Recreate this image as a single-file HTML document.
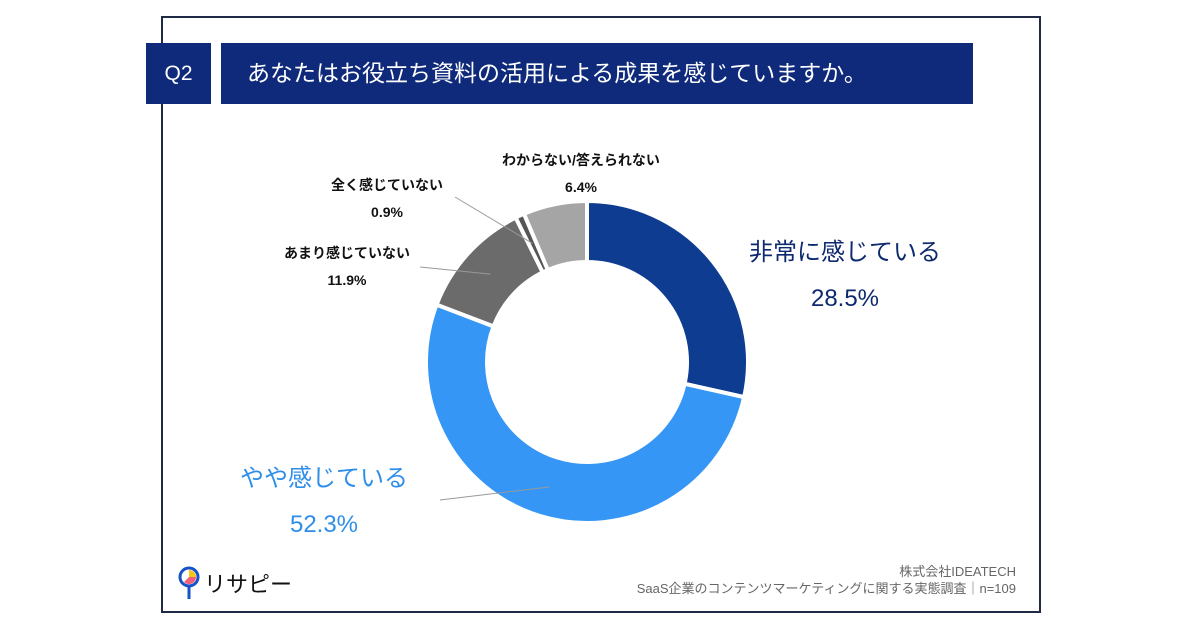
<!DOCTYPE html>
<html><head><meta charset="utf-8"><style>
body{margin:0;width:1200px;height:630px;background:#fff;position:relative;overflow:hidden;font-family:"Liberation Sans","Noto Sans CJK JP",sans-serif}
.abs{position:absolute}
</style></head><body>
<div class="abs" style="left:161px;top:16px;width:880px;height:597px;border:2px solid #1f2a44;box-sizing:border-box"></div>
<div class="abs" style="left:146px;top:43px;width:65px;height:61px;background:#0f2a7a;color:#fff;font-size:21px;line-height:61px;text-align:center">Q2</div>
<div class="abs" style="left:221px;top:43px;width:752px;height:61px;background:#0f2a7a;color:#fff;font-size:23px;line-height:61px;padding-left:26px;box-sizing:border-box">あなたはお役立ち資料の活用による成果を感じていますか。</div>
<svg class="abs" style="left:0;top:0" width="1200" height="630" id="chart"></svg>
<div class="abs" style="left:178px;top:566px;font-size:22px;color:#111;display:flex;align-items:center">
<svg width="22" height="34"><circle cx="11" cy="11" r="9" fill="#fff" stroke="#1652c8" stroke-width="3"/><path d="M11 11 L11 4 A7 7 0 0 1 18 11Z" fill="#f5c518"/><path d="M11 11 L18 11 A7 7 0 0 1 6 16Z" fill="#f0607a"/><line x1="11" y1="20" x2="11" y2="33" stroke="#1652c8" stroke-width="3"/></svg>
<span style="margin-left:4px">リサピー</span></div>
<div class="abs" style="right:184px;top:563px;text-align:right;font-size:13px;color:#666;line-height:17px">株式会社IDEATECH<br>SaaS企業のコンテンツマーケティングに関する実態調査｜n=109</div>
<script>
const categories=["非常に感じている","やや感じている","あまり感じていない","全く感じていない","わからない/答えられない"];
const values=[28.5,52.3,11.9,0.9,6.4];
const colors=["#0e3c91","#3596f5","#6b6b6b","#555555","#a5a5a5"];
const svg=document.getElementById('chart');
const NS="http://www.w3.org/2000/svg";
const cx=587,cy=362,R=161,r=100;
const total=values.reduce((a,b)=>a+b,0);
function pt(a,rad){return [cx+rad*Math.sin(a),cy-rad*Math.cos(a)];}
let acc=0;const mids=[];
values.forEach((v,i)=>{
 const a0=acc/total*2*Math.PI;acc+=v;const a1=acc/total*2*Math.PI;
 mids.push((a0+a1)/2);
 const large=(a1-a0)>Math.PI?1:0;
 const p0=pt(a0,R),p1=pt(a1,R),q1=pt(a1,r),q0=pt(a0,r);
 const p=document.createElementNS(NS,'path');
 p.setAttribute('d',`M${p0} A${R} ${R} 0 ${large} 1 ${p1} L${q1} A${r} ${r} 0 ${large} 0 ${q0}Z`);
 p.setAttribute('fill',colors[i]);p.setAttribute('stroke','#fff');p.setAttribute('stroke-width','4');
 
 
 svg.appendChild(p);
});
const labels=[
 {x:845,y:260,size:24,col:"#0e2a6e",bold:false,gap:46,lx:null},
 {x:324,y:486,size:24,col:"#2f8ee8",bold:false,gap:46,lx:440,ly:500},
 {x:347,y:258,size:14,col:"#111",bold:true,gap:27,lx:420,ly:267},
 {x:387,y:190,size:14,col:"#111",bold:true,gap:27,lx:455,ly:197},
 {x:581,y:165,size:14,col:"#111",bold:true,gap:27,lx:null}
];
labels.forEach((L,i)=>{
 if(L.lx!==null){const m=pt(mids[i],(R+r)/2);const ln=document.createElementNS(NS,'line');
  ln.setAttribute('x1',L.lx);ln.setAttribute('y1',L.ly);ln.setAttribute('x2',m[0]);ln.setAttribute('y2',m[1]);
  ln.setAttribute('stroke','#999');ln.setAttribute('stroke-width','1');
  
  
  svg.appendChild(ln);}
 [categories[i],values[i].toFixed(1)+'%'].forEach((s,k)=>{
  const t=document.createElementNS(NS,'text');
  t.setAttribute('x',L.x);t.setAttribute('y',L.y+k*L.gap);t.setAttribute('text-anchor','middle');
  t.setAttribute('font-size',L.size);t.setAttribute('fill',L.col);if(L.bold)t.setAttribute('font-weight','bold');
  t.setAttribute('font-family','"Liberation Sans","Noto Sans CJK JP",sans-serif');
  t.textContent=s;
  
  
  svg.appendChild(t);
 });
});
</script>
</body></html>
